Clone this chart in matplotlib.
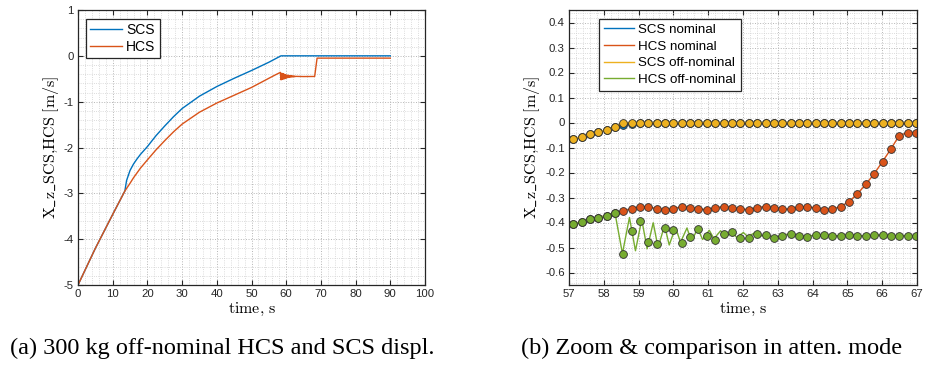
import numpy as np
import matplotlib
matplotlib.use("Agg")
import matplotlib.pyplot as plt
from matplotlib.lines import Line2D
from matplotlib.ticker import AutoMinorLocator, FuncFormatter

plt.rcParams["mathtext.fontset"] = "cm"
plt.rcParams["axes.unicode_minus"] = False
plt.rcParams["font.family"] = ["Liberation Sans", "DejaVu Sans"]

C_BLUE = "#0072BD"
C_RED = "#D95319"
C_YEL = "#EDB120"
C_GRN = "#77AC30"

# ---- (a) full descent, off-nominal case ----
scs_full_t = [0, 5, 10, 13.5, 14.0, 15, 16, 17, 18, 20, 22.5, 25, 27.5, 30,
              35, 40, 45, 50, 55, 58.5, 90]
scs_full_v = [-5.0, -4.2, -3.46, -2.95, -2.72, -2.5, -2.36, -2.25, -2.15, -1.98,
              -1.74, -1.53, -1.33, -1.15, -0.88, -0.67, -0.49, -0.32, -0.14, 0.0, 0.0]

hcs_early_t = [0, 5, 10, 13.5, 15, 16, 18, 20, 22.5, 25, 27.5, 30, 35, 40, 45,
               50, 55, 57.12, 58.32]
hcs_early_v = [-5.0, -4.2, -3.46, -2.95, -2.78, -2.66, -2.45, -2.27, -2.05, -1.85,
               -1.66, -1.49, -1.23, -1.03, -0.86, -0.69, -0.49, -0.406, -0.361]

# oscillation of the off-nominal HCS after the switch (peaks and troughs)
osc_t = [58.535, 58.737, 58.91, 59.09, 59.245, 59.42, 59.56, 59.745, 59.88,
         60.06, 60.205, 60.39, 60.52, 60.70, 60.84, 61.03, 61.165, 61.357,
         61.49, 61.68, 61.82, 62.01, 62.14, 62.34, 62.47]
osc_v = [-0.524, -0.380, -0.513, -0.388, -0.505, -0.401, -0.500, -0.412, -0.490,
         -0.420, -0.479, -0.422, -0.473, -0.425, -0.468, -0.431, -0.465, -0.433,
         -0.461, -0.436, -0.460, -0.440, -0.457, -0.441, -0.456]

hcs_late_t = [62.65, 65.0, 68.2, 68.9, 90]
hcs_late_v = [-0.448, -0.452, -0.45, -0.05, -0.05]

# ---- (b) zoom on the attenuation mode ----
t_zoom = [57.12, 57.36, 57.60, 57.84, 58.08, 58.32, 58.56, 58.80, 59.04, 59.28,
          59.52, 59.76, 60.00, 60.24, 60.48, 60.72, 60.96, 61.20, 61.44, 61.68,
          61.92, 62.17, 62.41, 62.65, 62.89, 63.13, 63.37, 63.61, 63.85, 64.09,
          64.33, 64.57, 64.81, 65.05, 65.29, 65.53, 65.77, 66.01, 66.25, 66.49,
          66.74, 66.98]

scs_nom = [-0.066, -0.056, -0.047, -0.039, -0.029, -0.019, -0.011, -0.004] + [0.0] * 34
scs_off = [-0.066, -0.056, -0.047, -0.039, -0.029, -0.017] + [0.0] * 36
hcs_pre = [-0.406, -0.396, -0.386, -0.380, -0.372, -0.361]
hcs_nom = hcs_pre + [
    -0.353, -0.345, -0.337, -0.337, -0.345, -0.348, -0.344, -0.337, -0.340,
    -0.346, -0.348, -0.341, -0.336, -0.340, -0.346, -0.348, -0.340, -0.336,
    -0.340, -0.346, -0.346, -0.339, -0.336, -0.342, -0.348, -0.346, -0.336,
    -0.316, -0.285, -0.247, -0.205, -0.156, -0.106, -0.052, -0.040, -0.040]
hcs_off = hcs_pre + [
    -0.525, -0.433, -0.394, -0.479, -0.487, -0.420, -0.430, -0.481, -0.459,
    -0.426, -0.453, -0.471, -0.444, -0.437, -0.460, -0.460, -0.444, -0.448,
    -0.460, -0.453, -0.444, -0.453, -0.456, -0.449, -0.449, -0.453, -0.452,
    -0.449, -0.452, -0.453, -0.451, -0.449, -0.452, -0.452, -0.452, -0.452]

labels_a = ["SCS", "HCS"]
labels_b = ["SCS nominal", "HCS nominal", "SCS off-nominal", "HCS off-nominal"]
caption_a = "(a) 300 kg off-nominal HCS and SCS displ."
caption_b = "(b) Zoom & comparison in atten. mode"

fig = plt.figure(figsize=(9.43, 3.70), dpi=100)
ax1 = fig.add_axes([78 / 943, 85 / 370, 347 / 943, 275 / 370])
ax2 = fig.add_axes([569 / 943, 85 / 370, 348 / 943, 275 / 370])

EDGE = "#262626"


def tick_fmt(v, pos):
    v = round(v, 1) + 0.0
    return "%g" % v


def style(ax):
    ax.minorticks_on()
    ax.xaxis.set_minor_locator(AutoMinorLocator(5))
    ax.yaxis.set_minor_locator(AutoMinorLocator(5))
    ax.grid(which="major", linestyle=":", color="#b5b5b5", linewidth=0.7)
    ax.grid(which="minor", linestyle=":", color="#d0d0d0", linewidth=0.6)
    ax.set_axisbelow(True)
    ax.tick_params(which="major", direction="in", length=3.5, width=0.8,
                   top=True, right=True, colors=EDGE, labelsize=8.2, pad=3)
    ax.tick_params(which="minor", length=0, top=True, right=True)
    for s in ax.spines.values():
        s.set_color(EDGE)
        s.set_linewidth(0.9)
    ax.xaxis.set_major_formatter(FuncFormatter(tick_fmt))
    ax.yaxis.set_major_formatter(FuncFormatter(tick_fmt))
    ax.set_xlabel(r"$\mathrm{time{,}\ s}$", fontsize=11.5, labelpad=1)
    ax.set_ylabel(r"$\mathrm{X\_z\_SCS{,}HCS\ [m/s]}$", fontsize=11.5, labelpad=2)


# panel (a)
hcs_full_t = hcs_early_t + osc_t + hcs_late_t
hcs_full_v = hcs_early_v + osc_v + hcs_late_v
ax1.plot(scs_full_t, scs_full_v, color=C_BLUE, linewidth=1.0)
ax1.plot(hcs_full_t, hcs_full_v, color=C_RED, linewidth=1.0)
ax1.set_xlim(0, 100)
ax1.set_ylim(-5, 1)
ax1.set_xticks(np.arange(0, 101, 10))
ax1.set_yticks(np.arange(-5, 2, 1))
style(ax1)
h_a = [Line2D([], [], color=C_BLUE, linewidth=1.0),
       Line2D([], [], color=C_RED, linewidth=1.0)]
leg = ax1.legend(h_a, labels_a, loc="upper left", bbox_to_anchor=(0.023, 0.967),
                 fontsize=10, frameon=True, fancybox=False, framealpha=1,
                 edgecolor=EDGE, handlelength=2.3, handletextpad=0.3,
                 borderpad=0.3, labelspacing=0.2, borderaxespad=0)
leg.get_frame().set_linewidth(0.9)

# panel (b)
mk = dict(marker="o", markersize=5.6, markeredgecolor="#303030", markeredgewidth=0.6)
t_arr = np.array(t_zoom)
ax2.plot(t_zoom, scs_nom, color=C_BLUE, linewidth=1.0, markerfacecolor=C_BLUE, **mk)
ax2.plot(t_zoom, hcs_nom, color=C_RED, linewidth=1.0, markerfacecolor=C_RED, **mk)
ax2.plot(t_zoom, scs_off, color=C_YEL, linewidth=1.0, markerfacecolor=C_YEL, **mk)
# off-nominal HCS: continuous trace through the oscillation, markers at the samples
hcs_off_arr = np.array(hcs_off)
pre = t_arr <= 58.4
post = t_arr >= 62.6
g_t = list(t_arr[pre]) + osc_t + list(t_arr[post])
g_v = list(hcs_off_arr[pre]) + osc_v + list(hcs_off_arr[post])
ax2.plot(g_t, g_v, color=C_GRN, linewidth=1.0)
ax2.plot(t_zoom, hcs_off, linestyle="none", markerfacecolor=C_GRN, **mk)
ax2.set_xlim(57, 67)
ax2.set_ylim(-0.65, 0.45)
ax2.set_xticks(np.arange(57, 68, 1))
ax2.set_yticks(np.round(np.arange(-0.6, 0.41, 0.1), 1))
style(ax2)
h_b = [Line2D([], [], color=c, linewidth=1.0) for c in (C_BLUE, C_RED, C_YEL, C_GRN)]
leg2 = ax2.legend(h_b, labels_b, loc="upper left", bbox_to_anchor=(0.086, 0.967),
                  fontsize=9.6, frameon=True, fancybox=False, framealpha=1,
                  edgecolor=EDGE, handlelength=2.3, handletextpad=0.3,
                  borderpad=0.35, labelspacing=0.32, borderaxespad=0)
leg2.get_frame().set_linewidth(0.9)

# sub-figure captions
fig.text(222 / 943, 1 - 348 / 370, caption_a, ha="center", va="center",
         fontsize=17.5, family=["Liberation Serif", "DejaVu Serif"])
fig.text(712 / 943, 1 - 348 / 370, caption_b, ha="center", va="center",
         fontsize=17.5, family=["Liberation Serif", "DejaVu Serif"])

fig.savefig("out.png", dpi=100)
